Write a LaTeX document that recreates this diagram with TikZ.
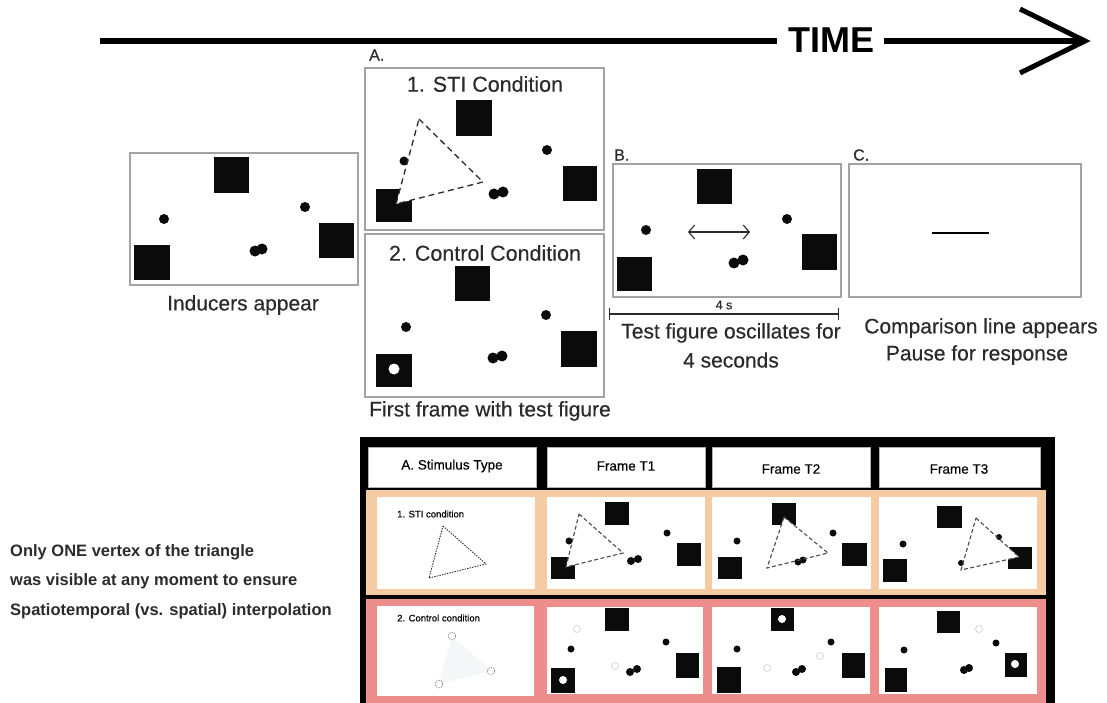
\documentclass[tikz,border=0pt]{standalone}
\usepackage{fontspec}
\setmainfont{Liberation Sans}
\newfontfamily\medfont[FakeBold=0.35]{Liberation Sans}
\usetikzlibrary{arrows.meta}
\definecolor{ink}{HTML}{2B2B2B}
\definecolor{framegray}{HTML}{A3A3A3}
\definecolor{peach}{HTML}{F5CBA3}
\definecolor{rose}{HTML}{EE8E8C}
\definecolor{sqc}{HTML}{0B0B0B}
\definecolor{faint}{HTML}{D6D6D6}
\definecolor{ghost}{HTML}{F3F7F7}
\newcommand\Sq[4]{\fill[sqc] (#1,#2) rectangle (#3,#4);}
\newcommand\Dt[3]{\fill[sqc] (#1,#2) circle[radius=#3pt];}
\newcommand\Wd[3]{\fill[white] (#1,#2) circle[radius=#3pt];}
\newcommand\Fc[2]{\draw[faint, line width=0.8pt] (#1,#2) circle[radius=3.5pt];}
\begin{document}
\begin{tikzpicture}[x=1pt,y=-1pt,
  panel/.style={draw=framegray, line width=1.3pt, fill=white},
  lbl/.style={text=ink, font=\medfont\fontsize{21}{23}\selectfont, inner sep=0pt},
  ttl/.style={text=ink, font=\medfont\fontsize{21.5}{23}\selectfont, inner sep=0pt},
  letter/.style={text=ink, font=\medfont\fontsize{16}{18}\selectfont, inner sep=0pt, anchor=west},
  hdr/.style={text=black, font=\medfont\fontsize{13.5}{15}\selectfont, inner sep=0pt},
  small/.style={text=black, font=\medfont\fontsize{9.5}{11}\selectfont, inner sep=0pt, anchor=west},
  note/.style={text=ink, font=\bfseries\fontsize{16.5}{18}\selectfont, inner sep=0pt, anchor=west},
  dashtri/.style={ink, line width=1.3pt, dash pattern=on 6pt off 4pt},
  smalltri/.style={ink!85, line width=1.1pt, dash pattern=on 4pt off 2.5pt},
  hcell/.style={fill=white, draw=gray!60, line width=0.6pt}]
\useasboundingbox (0,0) rectangle (1107,703);
\fill[white] (0,0) rectangle (1107,703);

% ---------- time axis ----------
\node[font=\bfseries\fontsize{36}{36}\selectfont, inner sep=0pt] (time) at (831,40) {TIME};
\coordinate (t0) at (100,41);
\coordinate (tg1) at (777,41);
\coordinate (tg2) at (884,41);
\coordinate (ttip) at (1085,41);
\coordinate (cht) at (1020,9);
\coordinate (chb) at (1020,73);
\draw[line width=6.5pt] (t0) -- (tg1);
\draw[line width=6.5pt] (tg2) -- (ttip);
\draw[line width=5pt, line join=miter] (cht) -- (ttip) -- (chb);

% ---------- inducers panel ----------
\draw[panel] (130,153) rectangle (358,285);
\Sq{214}{157}{249}{193}
\Sq{319}{223}{354}{258}
\Sq{134}{245}{170}{280}
\Dt{164}{219}{5}
\Dt{305}{207}{5}
\Dt{255}{251}{5.5}\Dt{262}{249}{5.5}
\node[lbl] (ind) at (243,305) {Inducers appear};

% ---------- A: STI ----------
\node[letter] (la) at (369,55) {A.};
\draw[panel] (365,68) rectangle (604,230);
\node[ttl] (sti) at (485,84) {1. STI Condition};
\Sq{456}{100}{492}{136}
\Sq{563}{166}{597}{201}
\Sq{376}{189}{412}{222}
\fill[white] (419,119) -- (483,182) -- (396,204) -- cycle;
\Dt{404}{161}{4.5}
\Dt{547}{150}{5}
\Dt{494}{194}{5.5}\Dt{503}{192}{5.5}
\draw[dashtri] (419,119) -- (483,182) -- (396,204) -- cycle;

% ---------- A: control ----------
\draw[panel] (365,234) rectangle (604,397);
\node[ttl] (ctl) at (485,253) {2. Control Condition};
\Sq{455}{266}{490}{301}
\Sq{561}{331}{597}{367}
\Sq{376}{354}{412}{387}
\Wd{394}{369}{5.5}
\Dt{406}{327}{5}
\Dt{546}{315}{5}
\Dt{493}{358}{5.5}\Dt{502}{356}{5.5}
\node[lbl] (first) at (490,411) {First frame with test figure};

% ---------- B ----------
\node[letter] (lb) at (614,155) {B.};
\draw[panel] (613,164) rectangle (841,297);
\Sq{697}{169}{732}{204}
\Sq{802}{234}{837}{270}
\Sq{617}{257}{652}{291}
\Dt{646}{230}{5}
\Dt{787}{219}{5}
\Dt{734}{263}{5.5}\Dt{743}{260}{5.5}
\coordinate (osl) at (688,232);
\coordinate (osr) at (750,232);
\draw[ink, line width=1.1pt, {Straight Barb[length=6pt,width=14pt]}-{Straight Barb[length=6pt,width=14pt]}] (osl) -- (osr);
\coordinate (b4l) at (609,314);
\coordinate (b4r) at (839,314);
\draw[ink, line width=1.3pt, {Bar[width=12pt]}-{Bar[width=12pt]}] (b4l) -- (b4r);
\node[text=ink, font=\medfont\fontsize{12.5}{14}\selectfont, inner sep=0pt] (fs) at (724,305) {4 s};
\node[lbl] (osc1) at (731,333) {Test figure oscillates for};
\node[lbl] (osc2) at (731,360) {4 seconds};

% ---------- C ----------
\node[letter] (lc) at (853,155) {C.};
\draw[panel] (849,164) rectangle (1081,297);
\coordinate (cl1) at (932,233);
\coordinate (cl2) at (989,233);
\draw[black, line width=1.3pt] (cl1) -- (cl2);
\node[lbl] (cmp1) at (981,328) {Comparison line appears};
\node[lbl] (cmp2) at (977,355) {Pause for response};

% ---------- left note ----------
\node[note] (n1) at (10,552) {Only ONE vertex of the triangle};
\node[note] (n2) at (10,581) {was visible at any moment to ensure};
\node[note] (n3) at (10,611) {Spatiotemporal (vs. spatial) interpolation};

% ---------- table ----------
\fill[black] (360,437) rectangle (1055,703);
\draw[hcell] (368,447) rectangle (536,487);
\draw[hcell] (547,447) rectangle (705,487);
\draw[hcell] (712,447) rectangle (870,487);
\draw[hcell] (879,447) rectangle (1040,487);
\node[hdr] (h1) at (452,466) {A. Stimulus Type};
\node[hdr] (h2) at (626,466) {Frame T1};
\node[hdr] (h3) at (791,469) {Frame T2};
\node[hdr] (h4) at (959,469) {Frame T3};

\fill[peach] (366,490) rectangle (1046,595);
\fill[rose] (366,599) rectangle (1046,703);
\fill[white] (377,497) rectangle (535,589);
\fill[white] (547,497) rectangle (705,589);
\fill[white] (712,497) rectangle (871,589);
\fill[white] (879,497) rectangle (1037,589);
\fill[white] (377,606) rectangle (534,696);
\fill[white] (547,607) rectangle (703,694);
\fill[white] (712,607) rectangle (870,694);
\fill[white] (879,607) rectangle (1037,694);

% STI row, cell 1
\node[small] (s1) at (397,514) {1. STI condition};
\draw[ink, line width=0.9pt, dash pattern=on 1.4pt off 1.2pt] (443,526) -- (486,564) -- (429,578) -- cycle;

% STI row, T1
\Sq{605}{502}{629}{525}
\Sq{551}{557}{575}{579}
\Sq{677}{543}{701}{566}
\fill[white] (579,514) -- (623,553) -- (566,567) -- cycle;
\Dt{569}{541}{3.5}
\Dt{667}{533}{3.5}
\Dt{631}{561}{4}\Dt{638}{559}{4}
\draw[smalltri] (579,514) -- (623,553) -- (566,567) -- cycle;

% STI row, T2
\Sq{772}{503}{796}{525}
\Sq{718}{557}{742}{579}
\Sq{842}{543}{867}{566}
\fill[white] (784,517) -- (828,553) -- (767,568) -- cycle;
\Dt{737}{541}{3.5}
\Dt{833}{533}{3.5}
\Dt{798}{562}{3.5}\Dt{803}{560}{3.5}
\draw[smalltri] (784,517) -- (828,553) -- (767,568) -- cycle;

% STI row, T3
\Sq{937}{506}{962}{528}
\Sq{883}{559}{907}{582}
\Sq{1008}{547}{1032}{569}
\fill[white] (976,518) -- (1019,557) -- (961,570) -- cycle;
\Dt{903}{544}{3.5}
\Dt{999}{537}{3}
\Dt{961}{563}{3}
\draw[smalltri] (976,518) -- (1019,557) -- (961,570) -- cycle;

% Control row, cell 1
\node[small] (c1) at (397,618) {2. Control condition};
\fill[ghost] (452,636) -- (491,671) -- (439,684) -- cycle;
\draw[gray, line width=0.8pt, dash pattern=on 1.2pt off 1.2pt] (452,636) circle[radius=3.8pt];
\draw[gray, line width=0.8pt, dash pattern=on 1.2pt off 1.2pt] (491,671) circle[radius=3.8pt];
\draw[gray, line width=0.8pt, dash pattern=on 1.2pt off 1.2pt] (439,684) circle[radius=3.8pt];

% Control row, T1
\Sq{605}{608}{629}{631}
\Sq{551}{668}{575}{693}
\Wd{563}{680}{4}
\Sq{676}{653}{699}{678}
\Fc{577}{629}
\Fc{615}{666}
\Dt{571}{649}{3.5}
\Dt{666}{642}{3.5}
\Dt{630}{672}{4}\Dt{637}{669}{4}

% Control row, T2
\Sq{771}{608}{794}{631}
\Wd{782}{619}{4}
\Sq{717}{667}{741}{693}
\Sq{842}{653}{865}{678}
\Fc{767}{668}
\Fc{820}{656}
\Dt{737}{649}{3.5}
\Dt{831}{642}{3.5}
\Dt{796}{672}{4}\Dt{802}{669}{4}

% Control row, T3
\Sq{937}{611}{960}{633}
\Sq{885}{668}{907}{692}
\Sq{1005}{653}{1027}{677}
\Wd{1015}{664}{4}
\Fc{979}{629}
\Dt{904}{650}{3.5}
\Dt{996}{643}{3.5}
\Dt{964}{670}{4}\Dt{969}{668}{4}
\end{tikzpicture}
\end{document}
